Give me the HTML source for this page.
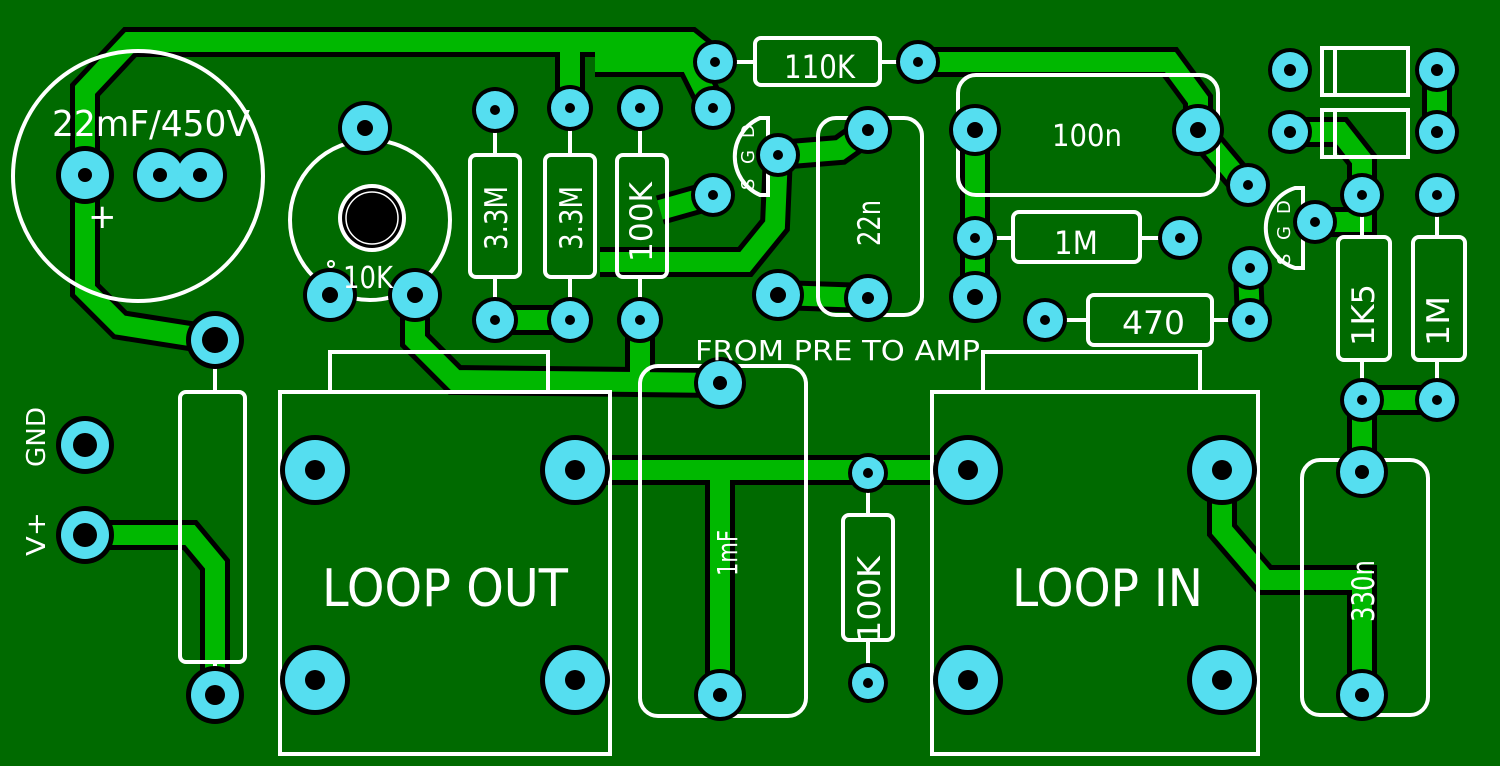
<!DOCTYPE html>
<html><head><meta charset="utf-8"><style>
html,body{margin:0;padding:0;background:#006a00;}
svg{display:block}
text{font-family:"DejaVu Sans","Liberation Sans",sans-serif;fill:#fff;}
</style></head><body>
<svg width="1500" height="766" viewBox="0 0 1500 766" xmlns="http://www.w3.org/2000/svg">
<rect width="1500" height="766" fill="#006a00"/>
<defs>
<g id="trk">
<polyline points="215,340 120,325 85,290 85,90 130,42 690,42 715,62"/>
<polyline points="570,42 570,108"/>
<polyline points="595,62 690,62 713,108"/>
<polyline points="415,295 415,340 455,380 720,383"/>
<polyline points="640,320 640,383"/>
<polyline points="495,320 570,320"/>
<polyline points="600,262 745,262 775,225 778,155"/>
<polyline points="660,210 713,195"/>
<polyline points="778,155 840,150 868,130"/>
<polyline points="778,295 868,298"/>
<polyline points="918,62 1170,62 1198,100 1198,130 1240,180 1248,185"/>
<polyline points="975,130 975,297"/>
<polyline points="1248,268 1250,320"/>
<polyline points="1315,222 1362,222 1362,195"/>
<polyline points="1290,132 1340,132 1362,160 1362,195"/>
<polyline points="1437,70 1437,132"/>
<polyline points="1362,400 1437,400"/>
<polyline points="1362,400 1362,472"/>
<polyline points="575,470 968,470"/>
<polyline points="720,470 720,695"/>
<polyline points="1222,470 1222,530 1265,580 1362,580 1362,695"/>
<polyline points="85,535 190,535 215,565 215,695"/>
</g>
</defs>
<use href="#trk" fill="none" stroke="#000" stroke-width="30" stroke-linejoin="miter"/>
<use href="#trk" fill="none" stroke="#00b800" stroke-width="20" stroke-linejoin="miter"/>

<g fill="none" stroke="#fff" stroke-width="4">
<circle cx="138" cy="176" r="125"/>
<circle cx="370" cy="220" r="80"/>
<rect x="280" y="392" width="330" height="362"/>
<polyline points="330,392 330,352 548,352 548,392"/>
<rect x="932" y="392" width="326" height="362"/>
<polyline points="983,392 983,352 1200,352 1200,392"/>
<rect x="640" y="366" width="166" height="350" rx="18"/>
<rect x="1302" y="460" width="126" height="255" rx="18"/>
<rect x="818" y="118" width="104" height="197" rx="18"/>
<rect x="958" y="75" width="260" height="120" rx="18"/>
<rect x="1322" y="48" width="86" height="47"/><line x1="1335" y1="48" x2="1335" y2="95"/>
<rect x="1322" y="110" width="86" height="47"/><line x1="1335" y1="110" x2="1335" y2="157"/>
<rect x="180" y="392" width="65" height="270" rx="6"/>
<line x1="215" y1="362" x2="215" y2="392"/><line x1="215" y1="662" x2="215" y2="690"/>
<rect x="470" y="155" width="50" height="122" rx="6"/>
<line x1="495" y1="130" x2="495" y2="155"/><line x1="495" y1="277" x2="495" y2="300"/>
<rect x="545" y="155" width="50" height="122" rx="6"/>
<line x1="570" y1="130" x2="570" y2="155"/><line x1="570" y1="277" x2="570" y2="300"/>
<rect x="617" y="155" width="50" height="122" rx="6"/>
<line x1="640" y1="130" x2="640" y2="155"/><line x1="640" y1="277" x2="640" y2="300"/>
<rect x="843" y="515" width="50" height="125" rx="6"/>
<line x1="868" y1="490" x2="868" y2="515"/><line x1="868" y1="640" x2="868" y2="665"/>
<rect x="1338" y="237" width="52" height="123" rx="6"/>
<line x1="1362" y1="215" x2="1362" y2="237"/><line x1="1362" y1="360" x2="1362" y2="385"/>
<rect x="1413" y="237" width="52" height="123" rx="6"/>
<line x1="1437" y1="215" x2="1437" y2="237"/><line x1="1437" y1="360" x2="1437" y2="385"/>
<rect x="755" y="38" width="125" height="47" rx="6"/>
<line x1="735" y1="62" x2="755" y2="62"/><line x1="880" y1="62" x2="900" y2="62"/>
<rect x="1013" y="212" width="127" height="50" rx="6"/>
<line x1="995" y1="238" x2="1013" y2="238"/><line x1="1140" y1="238" x2="1160" y2="238"/>
<rect x="1088" y="295" width="124" height="50" rx="6"/>
<line x1="1065" y1="320" x2="1088" y2="320"/><line x1="1212" y1="320" x2="1230" y2="320"/>
<path d="M760,118 L768,118 L768,195 L760,195 A42,42 0 0 1 760,118 Z"/>
<path d="M1295,188 L1303,188 L1303,268 L1295,268 A42,42 0 0 1 1295,188 Z"/>
</g>

<g fill="#000">
<circle cx="85" cy="175" r="29"/><circle cx="160" cy="175" r="27"/><circle cx="200" cy="175" r="27"/>
<circle cx="365" cy="128" r="27"/><circle cx="330" cy="295" r="27"/><circle cx="415" cy="295" r="27"/>
<circle cx="495" cy="110" r="23"/><circle cx="495" cy="320" r="23"/>
<circle cx="570" cy="108" r="23"/><circle cx="570" cy="320" r="23"/>
<circle cx="640" cy="108" r="23"/><circle cx="640" cy="320" r="23"/>
<circle cx="215" cy="340" r="29"/><circle cx="215" cy="695" r="29"/>
<circle cx="85" cy="445" r="29"/><circle cx="85" cy="535" r="29"/>
<circle cx="315" cy="470" r="35"/><circle cx="575" cy="470" r="35"/><circle cx="315" cy="680" r="35"/><circle cx="575" cy="680" r="35"/>
<circle cx="968" cy="470" r="35"/><circle cx="1222" cy="470" r="35"/><circle cx="968" cy="680" r="35"/><circle cx="1222" cy="680" r="35"/>
<circle cx="720" cy="383" r="26"/><circle cx="720" cy="695" r="26"/>
<circle cx="868" cy="473" r="20"/><circle cx="868" cy="683" r="20"/>
<circle cx="1362" cy="472" r="26"/><circle cx="1362" cy="695" r="26"/>
<circle cx="1362" cy="195" r="22"/><circle cx="1362" cy="400" r="22"/>
<circle cx="1437" cy="195" r="22"/><circle cx="1437" cy="400" r="22"/>
<circle cx="1290" cy="70" r="22"/><circle cx="1437" cy="70" r="22"/><circle cx="1290" cy="132" r="22"/><circle cx="1437" cy="132" r="22"/>
<circle cx="715" cy="62" r="22"/><circle cx="918" cy="62" r="22"/>
<circle cx="713" cy="108" r="22"/><circle cx="713" cy="195" r="22"/><circle cx="778" cy="155" r="22"/>
<circle cx="868" cy="130" r="24"/><circle cx="868" cy="298" r="24"/><circle cx="778" cy="295" r="26"/>
<circle cx="975" cy="130" r="26"/><circle cx="1198" cy="130" r="26"/><circle cx="975" cy="297" r="26"/>
<circle cx="975" cy="238" r="22"/><circle cx="1180" cy="238" r="22"/>
<circle cx="1045" cy="320" r="22"/><circle cx="1250" cy="320" r="22"/>
<circle cx="1248" cy="185" r="22"/><circle cx="1315" cy="222" r="22"/><circle cx="1250" cy="268" r="22"/>
</g>
<g fill="#55def0">
<circle cx="85" cy="175" r="24"/><circle cx="160" cy="175" r="23"/><circle cx="200" cy="175" r="23"/>
<circle cx="365" cy="128" r="23"/><circle cx="330" cy="295" r="23"/><circle cx="415" cy="295" r="23"/>
<circle cx="495" cy="110" r="19"/><circle cx="495" cy="320" r="19"/>
<circle cx="570" cy="108" r="19"/><circle cx="570" cy="320" r="19"/>
<circle cx="640" cy="108" r="19"/><circle cx="640" cy="320" r="19"/>
<circle cx="215" cy="340" r="24"/><circle cx="215" cy="695" r="24"/>
<circle cx="85" cy="445" r="24"/><circle cx="85" cy="535" r="24"/>
<circle cx="315" cy="470" r="30"/><circle cx="575" cy="470" r="30"/><circle cx="315" cy="680" r="30"/><circle cx="575" cy="680" r="30"/>
<circle cx="968" cy="470" r="30"/><circle cx="1222" cy="470" r="30"/><circle cx="968" cy="680" r="30"/><circle cx="1222" cy="680" r="30"/>
<circle cx="720" cy="383" r="22"/><circle cx="720" cy="695" r="22"/>
<circle cx="868" cy="473" r="16"/><circle cx="868" cy="683" r="16"/>
<circle cx="1362" cy="472" r="22"/><circle cx="1362" cy="695" r="22"/>
<circle cx="1362" cy="195" r="18"/><circle cx="1362" cy="400" r="18"/>
<circle cx="1437" cy="195" r="18"/><circle cx="1437" cy="400" r="18"/>
<circle cx="1290" cy="70" r="18"/><circle cx="1437" cy="70" r="18"/><circle cx="1290" cy="132" r="18"/><circle cx="1437" cy="132" r="18"/>
<circle cx="715" cy="62" r="18"/><circle cx="918" cy="62" r="18"/>
<circle cx="713" cy="108" r="18"/><circle cx="713" cy="195" r="18"/><circle cx="778" cy="155" r="18"/>
<circle cx="868" cy="130" r="20"/><circle cx="868" cy="298" r="20"/><circle cx="778" cy="295" r="22"/>
<circle cx="975" cy="130" r="22"/><circle cx="1198" cy="130" r="22"/><circle cx="975" cy="297" r="22"/>
<circle cx="975" cy="238" r="18"/><circle cx="1180" cy="238" r="18"/>
<circle cx="1045" cy="320" r="18"/><circle cx="1250" cy="320" r="18"/>
<circle cx="1248" cy="185" r="18"/><circle cx="1315" cy="222" r="18"/><circle cx="1250" cy="268" r="18"/>
</g>
<g fill="#000">
<circle cx="85" cy="175" r="7"/><circle cx="160" cy="175" r="7"/><circle cx="200" cy="175" r="7"/>
<circle cx="365" cy="128" r="8"/><circle cx="330" cy="295" r="8"/><circle cx="415" cy="295" r="8"/>
<circle cx="495" cy="110" r="5"/><circle cx="495" cy="320" r="5"/><circle cx="570" cy="108" r="5"/><circle cx="570" cy="320" r="5"/><circle cx="640" cy="108" r="5"/><circle cx="640" cy="320" r="5"/>
<circle cx="215" cy="340" r="13"/><circle cx="215" cy="695" r="10"/>
<circle cx="85" cy="445" r="12"/><circle cx="85" cy="535" r="12"/>
<circle cx="315" cy="470" r="10"/><circle cx="575" cy="470" r="10"/><circle cx="315" cy="680" r="10"/><circle cx="575" cy="680" r="10"/>
<circle cx="968" cy="470" r="10"/><circle cx="1222" cy="470" r="10"/><circle cx="968" cy="680" r="10"/><circle cx="1222" cy="680" r="10"/>
<circle cx="720" cy="383" r="7"/><circle cx="720" cy="695" r="7"/>
<circle cx="868" cy="473" r="5"/><circle cx="868" cy="683" r="5"/>
<circle cx="1362" cy="472" r="7"/><circle cx="1362" cy="695" r="7"/>
<circle cx="1362" cy="195" r="5"/><circle cx="1362" cy="400" r="5"/><circle cx="1437" cy="195" r="5"/><circle cx="1437" cy="400" r="5"/>
<circle cx="1290" cy="70" r="6"/><circle cx="1437" cy="70" r="6"/><circle cx="1290" cy="132" r="6"/><circle cx="1437" cy="132" r="6"/>
<circle cx="715" cy="62" r="5"/><circle cx="918" cy="62" r="5"/><circle cx="713" cy="108" r="5"/><circle cx="713" cy="195" r="5"/><circle cx="778" cy="155" r="5"/>
<circle cx="868" cy="130" r="6"/><circle cx="868" cy="298" r="6"/><circle cx="778" cy="295" r="8"/>
<circle cx="975" cy="130" r="8"/><circle cx="1198" cy="130" r="8"/><circle cx="975" cy="297" r="8"/>
<circle cx="975" cy="238" r="5"/><circle cx="1180" cy="238" r="5"/><circle cx="1045" cy="320" r="5"/><circle cx="1250" cy="320" r="5"/>
<circle cx="1248" cy="185" r="5"/><circle cx="1315" cy="222" r="5"/><circle cx="1250" cy="268" r="5"/>
</g>
<circle cx="372" cy="218" r="34" fill="#fff"/>
<circle cx="372" cy="218" r="30" fill="#000"/>
<circle cx="372" cy="218" r="26" fill="none" stroke="#fff" stroke-width="1.5"/>
<circle cx="331" cy="264" r="3" fill="none" stroke="#fff" stroke-width="2"/>

<g lengthAdjust="spacingAndGlyphs">
<text x="52" y="136" font-size="36" textLength="198" lengthAdjust="spacingAndGlyphs">22mF/450V</text>
<text x="88" y="228" font-size="34">+</text>
<text x="343" y="288" font-size="30" textLength="50" lengthAdjust="spacingAndGlyphs">10K</text>
<text x="695" y="360" font-size="28" textLength="285" lengthAdjust="spacingAndGlyphs">FROM PRE  TO AMP</text>
<text x="784" y="78" font-size="32" textLength="71" lengthAdjust="spacingAndGlyphs">110K</text>
<text x="1052" y="146" font-size="30" textLength="70" lengthAdjust="spacingAndGlyphs">100n</text>
<text x="1054" y="254" font-size="32" textLength="44" lengthAdjust="spacingAndGlyphs">1M</text>
<text x="1122" y="334" font-size="32" textLength="63" lengthAdjust="spacingAndGlyphs">470</text>
<text x="322" y="606" font-size="52" textLength="246" lengthAdjust="spacingAndGlyphs">LOOP OUT</text>
<text x="1012" y="606" font-size="52" textLength="191" lengthAdjust="spacingAndGlyphs">LOOP IN</text>
<text transform="translate(507,250) rotate(-90)" font-size="31" textLength="64" lengthAdjust="spacingAndGlyphs">3.3M</text>
<text transform="translate(582,250) rotate(-90)" font-size="31" textLength="64" lengthAdjust="spacingAndGlyphs">3.3M</text>
<text transform="translate(652,262) rotate(-90)" font-size="31" textLength="80" lengthAdjust="spacingAndGlyphs">100K</text>
<text transform="translate(880,246) rotate(-90)" font-size="31" textLength="46" lengthAdjust="spacingAndGlyphs">22n</text>
<text transform="translate(737,576) rotate(-90)" font-size="28" textLength="46" lengthAdjust="spacingAndGlyphs">1mF</text>
<text transform="translate(880,642) rotate(-90)" font-size="31" textLength="86" lengthAdjust="spacingAndGlyphs">100K</text>
<text transform="translate(1374,622) rotate(-90)" font-size="31" textLength="62" lengthAdjust="spacingAndGlyphs">330n</text>
<text transform="translate(1374,346) rotate(-90)" font-size="31" textLength="62" lengthAdjust="spacingAndGlyphs">1K5</text>
<text transform="translate(1449,346) rotate(-90)" font-size="31" textLength="50" lengthAdjust="spacingAndGlyphs">1M</text>
<text transform="translate(45,467) rotate(-90)" font-size="26" textLength="60" lengthAdjust="spacingAndGlyphs">GND</text>
<text transform="translate(45,556) rotate(-90)" font-size="26" textLength="44" lengthAdjust="spacingAndGlyphs">V+</text>
</g>
<g font-size="18">
<text transform="translate(754,190) rotate(-90)">S</text>
<text transform="translate(754,164) rotate(-90)">G</text>
<text transform="translate(754,138) rotate(-90)">D</text>
<text transform="translate(1290,265) rotate(-90)">S</text>
<text transform="translate(1290,240) rotate(-90)">G</text>
<text transform="translate(1290,214) rotate(-90)">D</text>
</g>
</svg>
</body></html>
